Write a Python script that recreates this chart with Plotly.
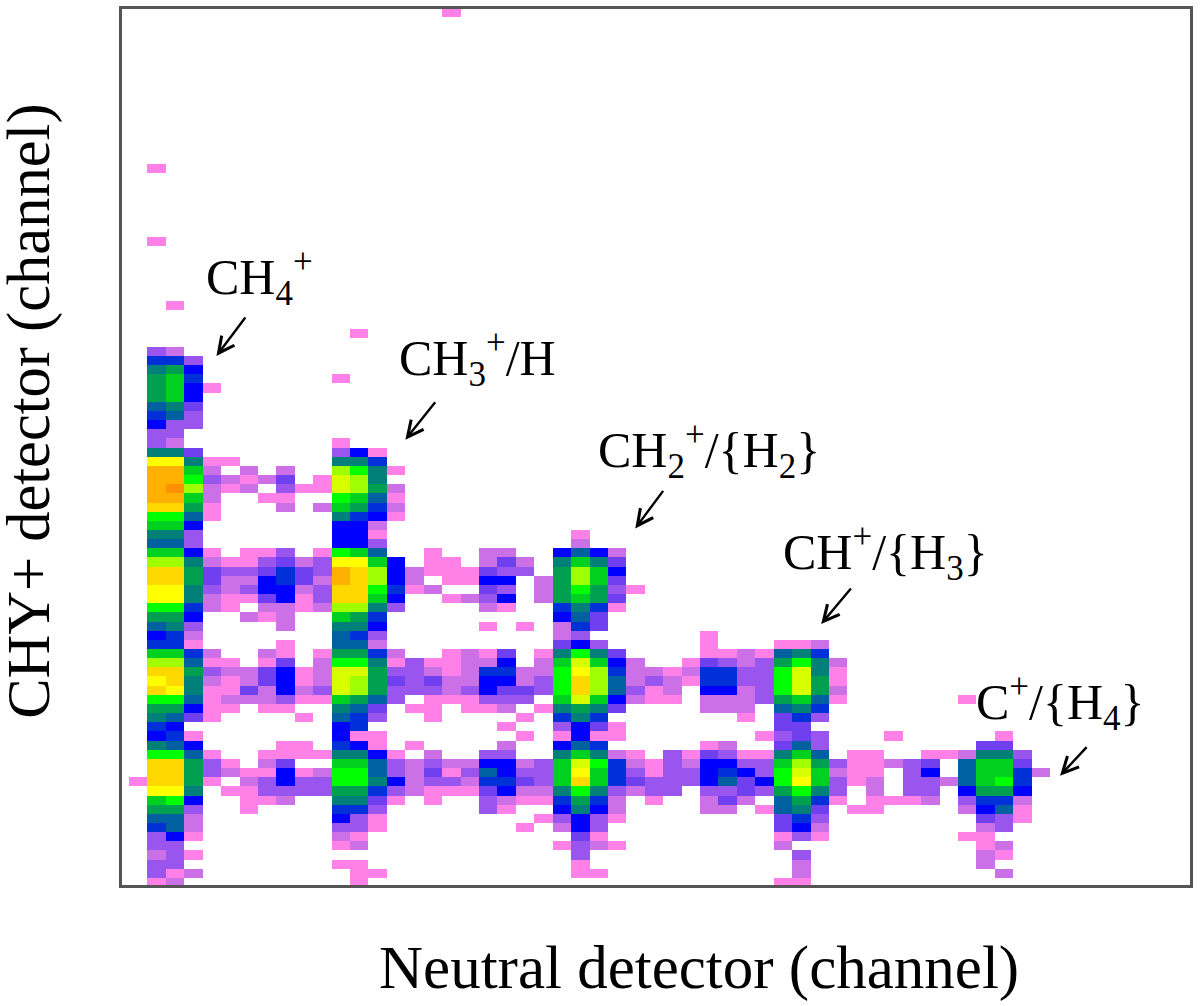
import plotly.graph_objects as go

# Discrete count level per cell: {neutral channel: level}, one dict per CHY+ channel
r95 = {16:1}
r78 = {0:1}
r70 = {0:1}
r63 = {1:1}
r60 = {11:1}
r58 = {0:3,1:2}
r57 = {0:6,1:6,2:3}
r56 = {0:8,1:9,2:5}
r55 = {0:9,1:10,2:6,10:1}
r54 = {0:9,1:10,2:5,3:1}
r53 = {0:9,1:10,2:5}
r52 = {0:7,1:8,2:4}
r51 = {0:6,1:7,2:3}
r50 = {0:5,1:3,2:3}
r49 = {0:3,1:3}
r48 = {0:3,1:2,10:1}
r47 = {0:8,1:8,2:4,10:3,11:5,12:1}
r46 = {0:14,1:14,2:8,3:1,4:1,10:8,11:8,12:6}
r45 = {0:16,1:16,2:10,3:2,5:2,7:2,10:12,11:11,12:8,13:1}
r44 = {0:16,1:16,2:11,3:3,4:2,5:1,6:2,7:4,9:1,10:13,11:12,12:8}
r43 = {0:16,1:17,2:12,3:2,4:1,5:2,7:3,8:1,9:1,10:13,11:12,12:9,13:2}
r42 = {0:16,1:16,2:10,3:2,6:1,7:1,10:11,11:10,12:7,13:1}
r41 = {0:15,1:15,2:9,3:1,7:2,9:2,10:10,11:9,12:6,13:2}
r40 = {0:11,1:11,2:7,3:1,10:8,11:6,12:5,13:1}
r39 = {0:10,1:10,2:5,10:5,11:5,12:2}
r38 = {0:8,1:8,2:3,10:5,11:5,12:1,23:1}
r37 = {0:7,1:7,2:3,10:5,11:5,12:3,23:2}
r36 = {0:10,1:10,2:5,3:1,5:1,6:1,7:3,9:1,10:11,11:10,12:7,15:1,18:2,19:2,22:5,23:7,24:5,25:2}
r35 = {0:12,1:12,2:8,3:2,4:1,5:1,6:3,7:4,8:2,9:3,10:14,11:14,12:10,13:5,15:1,16:1,18:2,19:4,20:2,22:8,23:10,24:8,25:4}
r34 = {0:15,1:15,2:9,3:4,4:3,5:3,6:4,7:6,8:4,9:3,10:16,11:15,12:12,13:5,14:2,15:1,16:1,17:1,18:4,19:3,20:3,22:9,23:12,24:10,25:5}
r33 = {0:15,1:15,2:9,3:4,4:2,5:2,6:5,7:6,8:4,9:2,10:16,11:15,12:12,13:5,14:2,16:1,17:1,18:5,19:5,21:2,22:9,23:12,24:10,25:4}
r32 = {0:14,1:14,2:8,3:3,4:2,5:3,6:5,7:5,8:2,9:3,10:15,11:15,12:11,13:6,14:1,15:2,18:4,19:3,21:2,22:9,23:11,24:9,25:3,26:1}
r31 = {0:14,1:14,2:8,3:2,4:1,5:1,6:4,7:5,8:1,9:3,10:15,11:15,12:10,13:5,16:1,17:2,18:3,19:5,21:2,22:9,23:10,24:9,25:4}
r30 = {0:11,1:11,2:6,3:2,4:1,6:2,7:2,8:1,9:2,10:12,11:12,12:8,13:3,18:2,19:1,22:6,23:8,24:6,25:1}
r29 = {0:9,1:9,2:5,5:2,6:1,7:2,10:10,11:9,12:6,22:5,23:7,24:4}
r28 = {0:7,1:8,2:3,7:2,10:8,11:8,12:5,18:1,20:1,22:2,23:6,24:4}
r27 = {0:5,1:6,2:2,10:7,11:6,12:3,22:2,23:3,30:1}
r26 = {0:6,1:6,2:1,7:1,10:7,11:7,12:2,22:4,23:5,24:3,30:1,34:1,35:1,36:2}
r25 = {0:10,1:10,2:6,3:2,6:2,7:1,9:1,10:9,11:9,12:6,13:2,16:1,17:2,18:1,19:4,21:1,22:8,23:11,24:8,25:4,30:1,31:1,32:2,33:1,34:7,35:8,36:6}
r24 = {0:12,1:12,2:7,3:1,4:1,6:1,7:4,9:2,10:11,11:11,12:8,13:1,14:3,15:1,16:1,17:2,18:2,19:5,21:2,22:10,23:13,24:10,25:5,26:2,29:1,30:4,31:3,32:2,33:3,34:9,35:11,36:8,37:2}
r23 = {0:15,1:15,2:9,3:3,4:2,5:2,6:4,7:5,8:1,9:2,10:13,11:13,12:9,13:3,14:3,15:2,16:1,17:2,18:6,19:6,20:2,21:2,22:11,23:14,24:12,25:6,26:2,27:2,28:1,29:2,30:6,31:6,32:3,33:3,34:11,35:13,36:8,37:1}
r22 = {0:14,1:15,2:8,3:2,4:1,5:2,6:4,7:5,8:1,9:2,10:13,11:12,12:9,13:4,14:3,15:4,16:2,17:2,18:5,19:5,20:2,21:3,22:11,23:15,24:12,25:7,26:2,27:3,28:2,29:1,30:6,31:6,32:3,33:3,34:11,35:13,36:9,37:1}
r21 = {0:15,1:14,2:8,3:1,4:1,5:4,6:2,7:5,8:2,9:3,10:13,11:12,12:9,13:3,14:3,15:3,16:2,17:3,18:5,19:4,20:4,21:3,22:11,23:15,24:12,25:7,26:3,27:1,28:2,30:5,31:5,32:2,33:3,34:11,35:13,36:9,37:2}
r20 = {0:11,1:11,2:7,3:1,4:2,5:2,6:2,7:3,8:1,9:1,10:10,11:9,12:7,13:3,15:1,16:1,17:1,18:3,19:3,20:3,22:10,23:13,24:10,25:5,26:2,27:1,28:1,30:2,31:2,32:2,33:3,34:9,35:10,36:7,37:1,44:1}
r19 = {0:9,1:9,2:5,3:1,4:1,6:1,7:1,10:8,11:7,12:4,14:1,15:1,17:1,18:1,19:2,21:1,22:8,23:9,24:8,25:4,30:2,31:2,32:2,34:7,35:8,36:6}
r18 = {0:8,1:7,2:4,3:1,8:1,10:7,11:6,12:3,15:1,20:1,22:6,23:8,24:6,32:1,34:4,35:6,36:3}
r17 = {0:6,1:5,10:5,11:6,19:1,22:3,23:5,24:4,25:1,34:4,35:4}
r16 = {0:5,1:6,2:1,10:5,11:1,12:1,20:1,22:1,23:5,24:1,25:1,33:1,34:3,35:4,36:3,40:1,46:1}
r15 = {0:8,1:7,2:5,7:1,8:1,10:6,11:5,12:1,14:1,19:2,22:5,23:7,24:6,30:1,31:2,34:4,35:7,36:3,45:4,46:4}
r14 = {0:11,1:11,2:7,3:1,6:1,7:1,8:1,9:1,10:8,11:8,12:5,13:1,15:2,18:3,19:3,22:8,23:10,24:8,25:2,26:1,28:3,29:1,30:4,31:3,32:1,33:1,34:8,35:10,36:7,38:1,39:1,42:1,43:1,44:2,45:8,46:8,47:3}
r13 = {0:15,1:15,2:9,3:3,4:1,6:2,7:4,10:10,11:10,12:7,13:3,14:2,15:3,16:2,17:2,18:5,19:5,20:2,21:3,22:10,23:13,24:11,25:6,26:2,27:1,28:3,29:2,30:5,31:5,32:3,33:3,34:10,35:12,36:9,37:3,38:1,39:1,40:2,41:3,42:4,44:7,45:10,46:10,47:4}
r12 = {0:15,1:15,2:9,3:3,4:2,5:1,6:1,7:5,8:1,9:2,10:11,11:11,12:7,13:3,14:2,15:4,16:1,17:3,18:7,19:5,20:3,21:3,22:10,23:14,24:10,25:6,26:3,27:1,28:3,29:3,30:5,31:6,32:5,33:3,34:11,35:13,36:10,37:2,38:1,39:1,41:3,42:5,44:7,45:10,46:10,47:6,48:2}
r11 = {-1:1,0:15,1:15,2:9,3:1,5:2,6:3,7:5,8:3,9:3,10:11,11:11,12:8,13:5,14:2,15:3,16:3,17:2,18:6,19:6,20:4,21:3,22:10,23:15,24:10,25:6,26:4,27:3,28:3,29:3,30:5,31:7,32:4,33:5,34:11,35:14,36:10,37:3,38:1,39:2,41:3,42:3,43:2,44:7,45:10,46:11,47:6}
r10 = {0:14,1:14,2:8,4:1,5:1,6:3,7:3,8:3,9:3,10:9,11:9,12:6,13:3,14:2,15:1,16:1,17:1,18:4,19:5,20:2,21:2,22:8,23:11,24:8,25:3,26:2,27:3,28:3,30:3,31:3,32:4,33:3,34:9,35:11,36:8,37:3,39:2,41:3,42:3,44:5,45:9,46:9,47:5}
r09 = {0:10,1:11,2:5,5:1,6:1,7:2,10:8,11:8,12:4,13:1,15:1,18:3,19:2,20:1,21:1,22:6,23:9,24:6,25:2,27:1,30:2,31:4,32:2,34:7,35:9,36:6,37:1,39:1,40:1,41:1,42:2,44:3,45:6,46:6,47:2}
r08 = {0:9,1:9,2:3,5:1,10:6,11:6,12:3,18:3,19:1,22:5,23:8,24:5,25:2,30:2,31:2,33:1,34:7,35:8,36:4,38:1,39:1,44:2,45:5,46:7,47:1}
r07 = {0:7,1:7,2:2,10:5,11:3,12:1,21:1,22:3,23:5,24:3,25:1,34:4,35:6,36:3,45:4,46:3,47:1}
r06 = {0:6,1:7,2:2,10:3,11:3,12:1,20:1,22:2,23:5,24:3,34:4,35:5,36:2,45:2,46:3}
r05 = {0:3,1:5,2:1,10:2,11:1,23:4,24:1,34:1,35:3,36:1,44:1,45:1}
r04 = {0:3,1:3,10:1,11:2,22:1,23:3,24:2,25:1,34:2,45:1,46:2}
r03 = {0:2,1:3,2:1,23:3,35:3,45:2,46:1}
r02 = {0:3,1:3,10:1,11:1,23:1,35:2,45:2}
r01 = {0:3,1:1,2:2,11:1,12:1,23:1,24:1,35:2,46:2}
r00 = {0:1,1:2,11:1,34:1,35:1}

rows = {95:r95,78:r78,70:r70,63:r63,60:r60,58:r58,57:r57,56:r56,55:r55,54:r54,53:r53,52:r52,51:r51,50:r50,
        49:r49,48:r48,47:r47,46:r46,45:r45,44:r44,43:r43,42:r42,41:r41,40:r40,39:r39,38:r38,37:r37,36:r36,
        35:r35,34:r34,33:r33,32:r32,31:r31,30:r30,29:r29,28:r28,27:r27,26:r26,25:r25,24:r24,23:r23,22:r22,
        21:r21,20:r20,19:r19,18:r18,17:r17,16:r16,15:r15,14:r14,13:r13,12:r12,11:r11,10:r10,9:r09,8:r08,
        7:r07,6:r06,5:r05,4:r04,3:r03,2:r02,1:r01,0:r00}

level_colors = ["#ff80e6","#cc70e8","#9a55ee","#7040f0","#0000ff","#0030d8","#0060a0","#008078","#00a050",
                "#00d020","#00ff00","#a0ff00","#d8ff00","#ffff00","#ffd800","#ffb000","#ff9000"]

labels = ["CH<sub>4</sub><sup>+</sup>","CH<sub>3</sub><sup>+</sup>/H","CH<sub>2</sub><sup>+</sup>/{H<sub>2</sub>}",
          "CH<sup>+</sup>/{H<sub>3</sub>}","C<sup>+</sup>/{H<sub>4</sub>}"]
x_title = "Neutral detector (channel)"
y_title = "CHY+ detector (channel)"

xs = list(range(-1, 56))
ys = list(range(0, 96))
z = [[rows.get(k, {}).get(c) for c in xs] for k in ys]

n = len(level_colors)
scale = []
for i, col in enumerate(level_colors):
    scale += [[i / n, col], [(i + 1) / n, col]]

W, H = 1200, 1006
L, R, T, B = 121.5, 1190, 6, 884.7
px = lambda v: (v - L) / (R - L)
py = lambda v: (B - v) / (B - T)

fig = go.Figure(go.Heatmap(x=xs, y=ys, z=z, zmin=0.5, zmax=n + 0.5, colorscale=scale,
                           showscale=False, hoverongaps=False, zsmooth=False))

font = "Liberation Serif"
label_pos = [(204, 275), (397, 357), (596, 449), (781, 551), (974, 702)]
arrows = [((246, 314), (216, 354)), ((436, 399), (405, 438)), ((664, 488), (635, 527)),
          ((852, 586), (821, 623)), ((1088, 745), (1060, 775))]
ann = []
for t, (x, y) in zip(labels, label_pos):
    ann.append(dict(text=t, xref="paper", yref="paper", x=px(x), y=py(y), xanchor="left", yanchor="middle",
                    showarrow=False, font=dict(family=font, size=50, color="black")))
for (tail, head) in arrows:
    ann.append(dict(text="", xref="paper", yref="paper", x=px(head[0]), y=py(head[1]),
                    axref="pixel", ayref="pixel", ax=tail[0] - head[0], ay=tail[1] - head[1],
                    showarrow=True, arrowhead=5, arrowsize=1.3, arrowwidth=2.4, arrowcolor="black"))
ann.append(dict(text=x_title, xref="paper", yref="paper", x=px(699), y=py(968), showarrow=False,
                xanchor="center", yanchor="middle", font=dict(family=font, size=61, color="black")))
ann.append(dict(text=y_title, xref="paper", yref="paper", x=px(29), y=py(409.5), showarrow=False, textangle=-90,
                xanchor="center", yanchor="middle", font=dict(family=font, size=60.5, color="black")))

axis = dict(showline=True, mirror=True, linecolor="#555555", linewidth=2.5, showgrid=False, zeroline=False,
            showticklabels=False, ticks="")
fig.update_layout(width=W, height=H, autosize=False, paper_bgcolor="white", plot_bgcolor="white",
                  margin=dict(l=L, r=W - R, t=T, b=H - B), annotations=ann,
                  xaxis=dict(axis, range=[-1.88, 56.12]),
                  yaxis=dict(axis, range=[-0.23, 95.4]))
fig.write_html("out.html", config={"displayModeBar": False},
               post_script="document.body.style.margin='0';document.documentElement.style.overflow='hidden';")
